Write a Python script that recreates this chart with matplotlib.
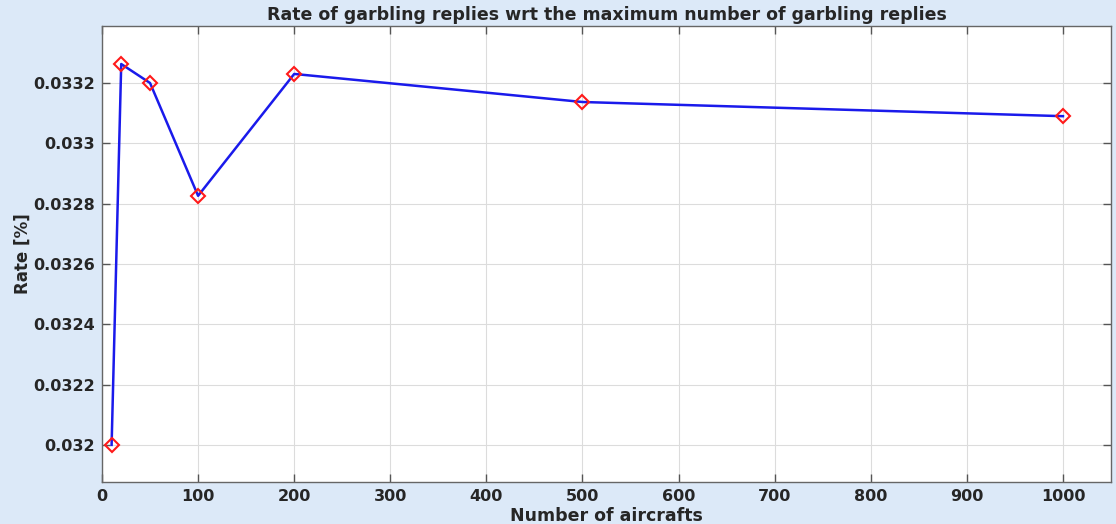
import numpy as np
import matplotlib.pyplot as plt
from matplotlib.ticker import FuncFormatter

# number of aircrafts vs garbling reply rate
aircrafts = [10, 20, 50, 100, 200, 500, 1000]
rate = [0.03200, 0.033263, 0.03320, 0.032826, 0.03323, 0.033137, 0.03309]

txt = '#262626'
plt.rcParams['font.family'] = 'DejaVu Sans'
plt.rcParams['font.weight'] = 'bold'

fig = plt.figure(figsize=(11.16, 5.24), dpi=100, facecolor='#dce9f8')
ax = fig.add_axes([102/1116, 1 - 482/524, (1111-102)/1116, (482-26)/524])
ax.set_facecolor('white')

ax.plot(aircrafts, rate, color='#1a1aeb', lw=1.8, marker='D', ms=7,
        mfc='none', mec='#ff1a1a', mew=1.5)

ax.set_xlim(0, 1050)
ax.set_ylim(0.031877, 0.033389)
ax.set_xticks(np.arange(0, 1001, 100))
ax.set_yticks([0.032, 0.0322, 0.0324, 0.0326, 0.0328, 0.033, 0.0332])
ax.yaxis.set_major_formatter(FuncFormatter(lambda v, p: f'{v:g}'))

ax.grid(True, color='#dcdcdc', lw=0.8)
ax.tick_params(direction='in', length=6, width=1, colors='#555555',
               labelcolor=txt, labelsize=11.5, top=True, right=True,
               labeltop=False, labelright=False, pad=5)
for s in ax.spines.values():
    s.set_color('#666666')
    s.set_linewidth(1)

ax.set_title('Rate of garbling replies wrt the maximum number of garbling replies',
             fontsize=12.5, fontweight='bold', color=txt, pad=4)
ax.set_xlabel('Number of aircrafts', fontsize=12.5, fontweight='bold', color=txt, labelpad=2)
ax.set_ylabel('Rate [%]', fontsize=12, fontweight='bold', color=txt, labelpad=1)

fig.savefig('out.png', dpi=100, facecolor=fig.get_facecolor())
